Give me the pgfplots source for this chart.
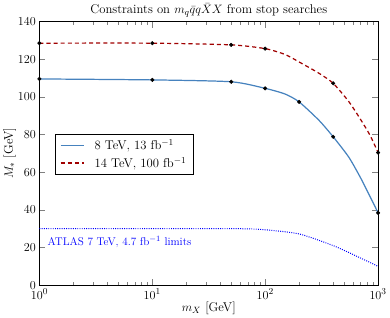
\documentclass[border=0pt]{standalone}
\usepackage{pgfplots}
\pgfplotsset{compat=1.18}
\definecolor{lblue}{RGB}{70,130,190}
\definecolor{dred}{RGB}{160,0,0}
\begin{document}
\begin{tikzpicture}[font=\fontsize{12.5}{15}\selectfont]
\begin{axis}[
  scale only axis, width=334pt, height=260pt,
  xmode=log, xmin=1, xmax=1000, ymin=0, ymax=140,
  ytick={0,20,...,140},
  tick align=inside, tick pos=both,
  major tick length=6pt, minor tick length=3pt,
  tick label style={font=\fontsize{12.5}{15}\selectfont},
  label style={font=\fontsize{12.5}{15}\selectfont},
  title={Constraints on $m_q\bar{q}q\bar{X}X$ from stop searches},
  title style={yshift=-5pt, font=\fontsize{12.5}{15}\selectfont},
  xlabel={$m_X$ [GeV]}, ylabel={$M_*$ [GeV]},
  xlabel style={yshift=4pt}, ylabel style={yshift=-5pt},
  legend style={at={(0.045,0.573)}, anchor=north west, font=\fontsize{12.5}{15}\selectfont, row sep=2pt, inner xsep=5pt, inner ysep=3pt},
  legend image code/.code={\begin{scope}[#1]\pgfsetlinewidth{1.4pt}\draw (0cm,0cm) -- (0.8cm,0cm);\end{scope} \path (1.1cm,0cm);},
  legend cell align=left,
]
\addlegendimage{color=lblue, solid}
\addlegendentry{8 TeV, 13 fb$^{-1}$}
\addlegendimage{color=dred, dash pattern=on 4pt off 3pt}
\addlegendentry{14 TeV, 100 fb$^{-1}$}
\addplot[lblue, line width=1.2pt, smooth, tension=0.4, forget plot] coordinates {(1,109.5)(10,109)(50,108)(100,104.5)(150,101.5)(200,97.3)(300,87.5)(400,78.8)(550,68)(700,57)(850,47)(1000,38.4)};
\addplot[dred, line width=1.2pt, dash pattern=on 4pt off 3pt, smooth, tension=0.4, forget plot] coordinates {(1,128.5)(10,128.5)(50,127.6)(100,125.6)(150,122.5)(200,118.5)(300,112.5)(400,107.2)(550,97.5)(700,88)(850,79.5)(1000,70.4)};
\addplot[blue, line width=1pt, dash pattern=on 0.9pt off 1.3pt, smooth, tension=0.4, forget plot] coordinates {(1,30)(50,30)(100,29.4)(200,27.2)(400,21)(700,14.4)(1000,10)};
\addplot[only marks, mark=*, mark size=1.8pt, black, forget plot] coordinates {(1,109.5)(10,109)(50,108)(100,104.5)(200,97.3)(400,78.8)(1000,38.4)};
\addplot[only marks, mark=*, mark size=1.8pt, black, forget plot] coordinates {(1,128.5)(10,128.5)(50,127.6)(100,125.6)(400,107.2)(1000,70.4)};
\node[anchor=west, text=blue, font=\fontsize{11}{13}\selectfont] at (axis cs:1.1,23) {ATLAS 7 TeV, 4.7 fb$^{-1}$ limits};
\end{axis}
\end{tikzpicture}
\end{document}
